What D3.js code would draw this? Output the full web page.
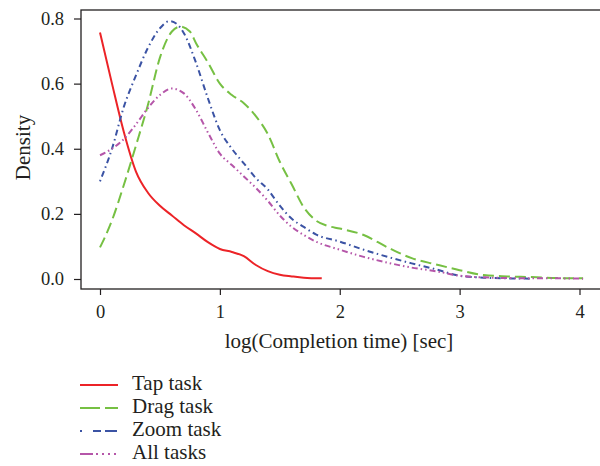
<!DOCTYPE html>
<html>
<head>
<meta charset="utf-8">
<script src="https://cdn.jsdelivr.net/npm/d3@7"></script>
<style>
  body { margin: 0; background: #fff; }
  svg text { font-family: "Liberation Serif", "DejaVu Serif", serif; fill: #231f20; }
</style>
</head>
<body>
<svg id="chart" width="600" height="466"></svg>
<script>
// Density curves
const tapX = [0, 0.1, 0.2, 0.3, 0.4, 0.5, 0.6, 0.7, 0.8, 0.9, 1.0, 1.1, 1.2, 1.3, 1.4, 1.5, 1.6, 1.7, 1.85];
const tapY = [0.757, 0.60, 0.45, 0.33, 0.265, 0.225, 0.195, 0.165, 0.14, 0.113, 0.092, 0.083, 0.07, 0.043, 0.024, 0.013, 0.008, 0.004, 0.002];

const dragX = [0, 0.1, 0.2, 0.3, 0.4, 0.5, 0.6, 0.67, 0.75, 0.8, 0.9, 1.0, 1.1, 1.2, 1.3, 1.4, 1.5, 1.6, 1.7, 1.8, 1.9, 2.0, 2.2, 2.4, 2.6, 2.8, 3.0, 3.2, 3.4, 3.6, 3.8, 4.03];
const dragY = [0.097, 0.18, 0.29, 0.41, 0.535, 0.68, 0.76, 0.775, 0.76, 0.725, 0.665, 0.60, 0.565, 0.54, 0.50, 0.445, 0.36, 0.29, 0.22, 0.18, 0.163, 0.155, 0.135, 0.097, 0.064, 0.045, 0.027, 0.012, 0.008, 0.006, 0.003, 0.002];

const zoomX = [0, 0.1, 0.2, 0.3, 0.4, 0.5, 0.58, 0.65, 0.7, 0.8, 0.9, 1.0, 1.1, 1.2, 1.3, 1.4, 1.5, 1.6, 1.7, 1.8, 2.0, 2.2, 2.4, 2.6, 2.8, 3.0, 3.2, 3.4, 3.6];
const zoomY = [0.30, 0.40, 0.53, 0.625, 0.71, 0.77, 0.792, 0.78, 0.755, 0.665, 0.555, 0.457, 0.40, 0.355, 0.31, 0.275, 0.225, 0.185, 0.16, 0.137, 0.115, 0.09, 0.068, 0.048, 0.03, 0.01, 0.004, 0.002, 0.001];

const allX = [0, 0.1, 0.2, 0.3, 0.4, 0.5, 0.6, 0.7, 0.8, 0.9, 1.0, 1.1, 1.2, 1.3, 1.4, 1.5, 1.6, 1.7, 1.8, 2.0, 2.2, 2.4, 2.6, 2.8, 3.0, 3.2, 3.4, 3.6, 3.8, 4.03];
const allY = [0.38, 0.40, 0.43, 0.475, 0.525, 0.565, 0.585, 0.57, 0.52, 0.45, 0.385, 0.35, 0.315, 0.28, 0.24, 0.195, 0.16, 0.135, 0.115, 0.09, 0.068, 0.05, 0.035, 0.024, 0.01, 0.005, 0.003, 0.002, 0.002, 0.001];

const xTicks = [0, 1, 2, 3, 4];
const yTicks = [0, 0.2, 0.4, 0.6, 0.8];

const series = [
  { name: "Tap task",  xs: tapX,  ys: tapY,  color: "#ec2327", dash: null, legendDash: null },
  { name: "Drag task", xs: dragX, ys: dragY, color: "#76c043", dash: "11,5", legendDash: "20,5" },
  { name: "Zoom task", xs: zoomX, ys: zoomY, color: "#3b53a4", dash: "1.5,3.5,6,3.5", legendDash: "2,11,8,4,12" },
  { name: "All tasks", xs: allX,  ys: allY,  color: "#b556a9", dash: "6,3,1.5,3,1.5,3", legendDash: "13,3,2,4,2,4,2,4,2" }
];

const svg = d3.select("#chart");

const x = d3.scaleLinear().domain([0, 4]).range([100, 579.5]);
const y = d3.scaleLinear().domain([0, 0.8]).range([279, 18.5]);

// Frame (right side runs off the image)
svg.append("rect")
  .attr("x", 81).attr("y", 10)
  .attr("width", 560).attr("height", 279)
  .attr("fill", "none")
  .attr("stroke", "#231f20")
  .attr("stroke-width", 1.3);

const yAxis = svg.append("g")
  .attr("transform", "translate(81,0)")
  .call(d3.axisLeft(y).tickValues(yTicks).tickFormat(d3.format(".1f")).tickSize(7).tickPadding(10));

const xAxis = svg.append("g")
  .attr("transform", "translate(0,289)")
  .call(d3.axisBottom(x).tickValues(xTicks).tickFormat(d3.format("d")).tickSize(6).tickPadding(10));

[yAxis, xAxis].forEach(g => {
  g.select(".domain").remove();
  g.selectAll(".tick line").attr("stroke", "#231f20").attr("stroke-width", 1.2);
  g.selectAll(".tick text").style("font-size", "18.5px").attr("fill", "#231f20");
});

// Axis titles
svg.append("text")
  .attr("transform", "translate(29.5,147.5) rotate(-90)")
  .attr("text-anchor", "middle")
  .style("font-size", "21px")
  .text("Density");

svg.append("text")
  .attr("x", 339).attr("y", 348)
  .attr("text-anchor", "middle")
  .style("font-size", "21px")
  .text("log(Completion time) [sec]");

// Curves
const line = d3.line()
  .x(d => x(d[0]))
  .y(d => y(d[1]))
  .curve(d3.curveMonotoneX);

series.forEach(s => {
  const pts = s.xs.map((v, i) => [v, s.ys[i]]);
  svg.append("path")
    .datum(pts)
    .attr("d", line)
    .attr("fill", "none")
    .attr("stroke", s.color)
    .attr("stroke-width", 2)
    .attr("stroke-dasharray", s.dash);
});

// Legend below the plot
const legend = svg.append("g").attr("transform", "translate(80,385)");
series.forEach((s, i) => {
  const row = legend.append("g").attr("transform", `translate(0,${i * 23})`);
  row.append("line")
    .attr("x1", 0).attr("x2", 38)
    .attr("y1", 0).attr("y2", 0)
    .attr("stroke", s.color)
    .attr("stroke-width", 2)
    .attr("stroke-dasharray", s.legendDash);
  row.append("text")
    .attr("x", 52).attr("y", 4.5)
    .style("font-size", "21px")
    .text(s.name);
});
</script>
</body>
</html>
